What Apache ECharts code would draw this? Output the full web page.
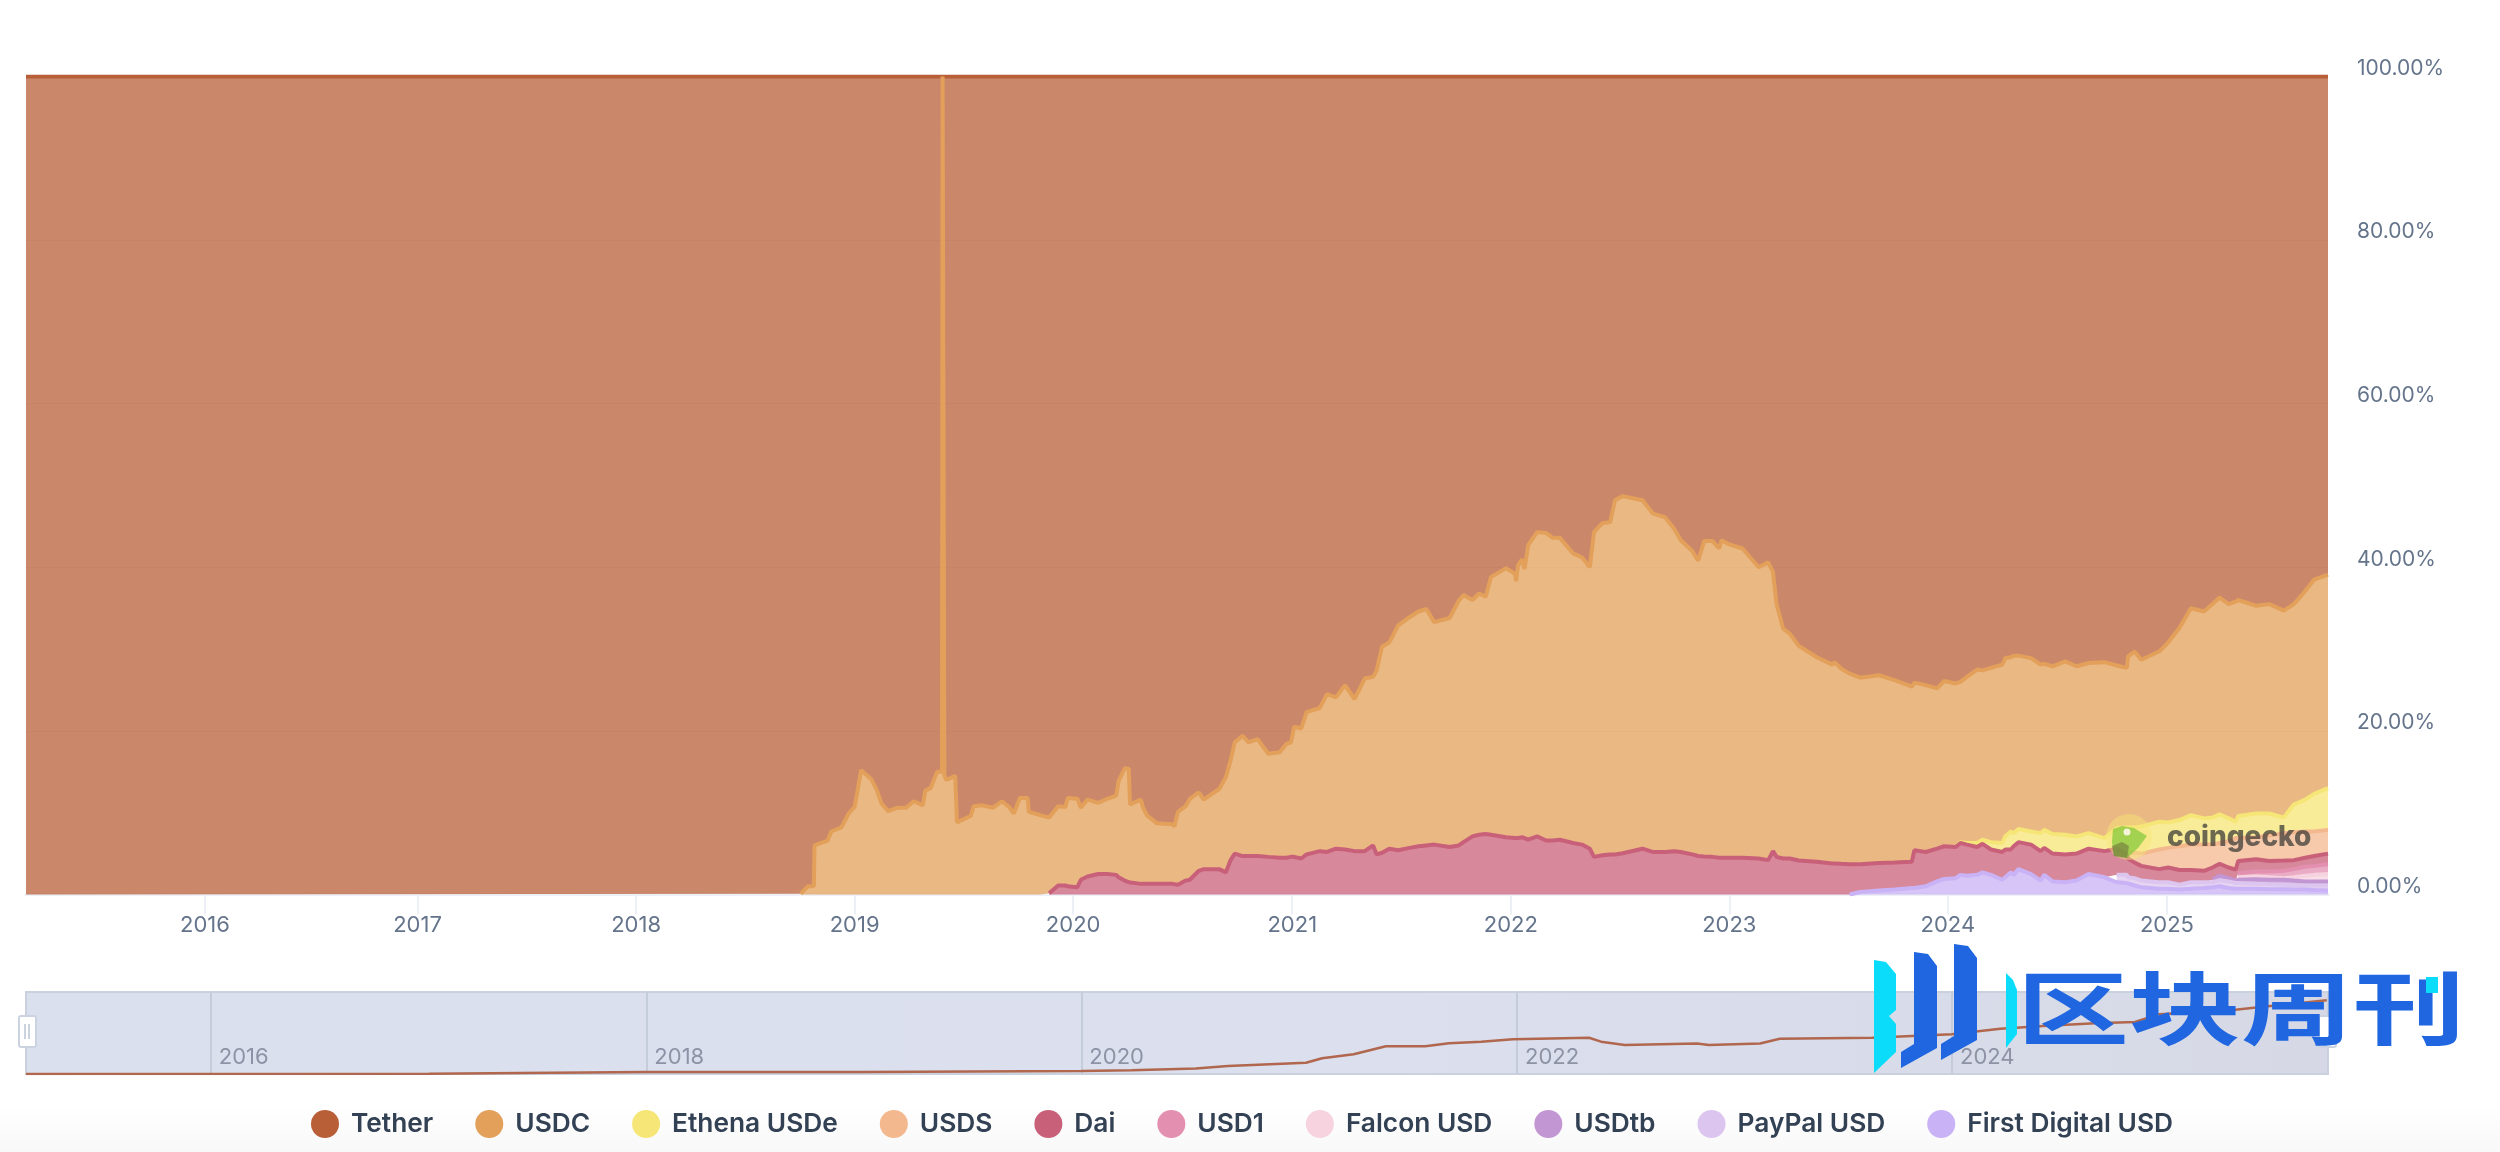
<!DOCTYPE html>
<html>
<head>
<meta charset="utf-8">
<title>Stablecoin dominance</title>
<script src="https://cdn.jsdelivr.net/npm/echarts@6/dist/echarts.min.js"></script>
<style>
html, body { margin: 0; padding: 0; background: linear-gradient(to bottom, #fff 96%, #f8f8f8 100%); }
#chart { width: 2500px; height: 1152px; }
</style>
</head>
<body>
<div id="chart"></div>
<script>
// shared dates of the stacked area
var dates = [
    '2015-03-19', '2018-10-02',
    '2018-10-03', '2018-10-15', '2018-10-25', '2018-10-26', '2018-11-17', '2018-11-23', '2018-12-10', '2018-12-22', '2019-01-01', '2019-01-05',
    '2019-01-12', '2019-01-18', '2019-01-29', '2019-02-07', '2019-02-15', '2019-02-26', '2019-03-13', '2019-03-28', '2019-04-10', '2019-04-25',
    '2019-04-29', '2019-05-08', '2019-05-15', '2019-05-19', '2019-05-27', '2019-05-28', '2019-05-30', '2019-05-31', '2019-06-03', '2019-06-18',
    '2019-06-21', '2019-06-29', '2019-07-14', '2019-07-19', '2019-08-02', '2019-08-20', '2019-09-04', '2019-09-16', '2019-09-24', '2019-10-04',
    '2019-10-17', '2019-10-19', '2019-11-07',
    '2019-11-22', '2019-12-07', '2019-12-19', '2019-12-23', '2020-01-08', '2020-01-14', '2020-01-25', '2020-02-12', '2020-02-27', '2020-03-13',
    '2020-03-17', '2020-03-27', '2020-04-03', '2020-04-05', '2020-04-23', '2020-04-27', '2020-05-03', '2020-05-20', '2020-06-15', '2020-06-18',
    '2020-06-24', '2020-07-07', '2020-07-14', '2020-07-29', '2020-08-06', '2020-09-01', '2020-09-12', '2020-09-20', '2020-09-27', '2020-10-10',
    '2020-10-20', '2020-11-04', '2020-11-22', '2020-12-11', '2020-12-22', '2020-12-30', '2021-01-04', '2021-01-16', '2021-01-25', '2021-02-16',
    '2021-02-28', '2021-03-15', '2021-03-30', '2021-04-15', '2021-05-02', '2021-05-16', '2021-05-22', '2021-05-31', '2021-06-12', '2021-06-27',
    '2021-07-16', '2021-07-31', '2021-08-13', '2021-08-26', '2021-09-21', '2021-10-06', '2021-10-14', '2021-10-29', '2021-11-09', '2021-11-20',
    '2021-11-29', '2021-12-24', '2022-01-08', '2022-01-10', '2022-01-13', '2022-01-20', '2022-01-24', '2022-01-30', '2022-02-14', '2022-03-01',
    '2022-03-12', '2022-03-24', '2022-04-15', '2022-04-30', '2022-05-13', '2022-05-20', '2022-06-03', '2022-06-16', '2022-06-24', '2022-07-07',
    '2022-08-09', '2022-08-26', '2022-09-16', '2022-10-01', '2022-10-12', '2022-10-31', '2022-11-10', '2022-11-20', '2022-12-04', '2022-12-15',
    '2022-12-19', '2023-01-01', '2023-01-23', '2023-02-19', '2023-03-07', '2023-03-15', '2023-03-21', '2023-04-01', '2023-04-12', '2023-04-27',
    '2023-05-27', '2023-06-22', '2023-06-26', '2023-07-07',
    '2023-07-21', '2023-08-08', '2023-09-08', '2023-10-04', '2023-11-02', '2023-11-06', '2023-11-25', '2023-12-14', '2023-12-26', '2024-01-14',
    '2024-01-22', '2024-02-02', '2024-02-19', '2024-02-28', '2024-03-13', '2024-04-01', '2024-04-06', '2024-04-15', '2024-04-20', '2024-04-28',
    '2024-05-19', '2024-06-04', '2024-06-10', '2024-06-24', '2024-07-15', '2024-08-03', '2024-08-23', '2024-09-19', '2024-10-09', '2024-10-26',
    '2024-10-28', '2024-11-08', '2024-11-19', '2024-12-19', '2025-01-03', '2025-01-22', '2025-02-10', '2025-03-04', '2025-03-18', '2025-03-30',
    '2025-04-14', '2025-04-26', '2025-04-30', '2025-05-30', '2025-06-21', '2025-07-15', '2025-08-01', '2025-08-20', '2025-09-04', '2025-09-27'
];

// top edge of each band in percent.
// each list ends on the last date, the ones that start later are just shorter
var usdcTop = [
    0.1, 1, 1, 6, 6.6, 7.7, 8.2, 9.9, 10.7, 12.3,
    15.2, 14.8, 14.1, 12.8, 11.1, 10.2, 10.6, 10.6, 11.4, 10.9,
    12.7, 13, 14.3, 15, 15, 100, 100, 14.6, 14, 14.5,
    8.8, 9.1, 9.6, 10.8, 10.9, 10.6, 11.4, 10.7, 9.9, 11.8,
    11.8, 10.1, 9.7,
    9.4, 10.8, 10.7, 11.8, 11.7, 10.6, 11.6, 11.2, 11.7, 12.1,
    13.9, 15.4, 15.4, 11, 11.6, 10.6, 9.7, 8.7, 8.6, 8.3,
    10.1, 10.8, 11.7, 12.5, 11.6, 12.9, 14.3, 16.4, 18.6, 19.4,
    18.6, 19, 17.2, 17.4, 18.4, 18.6, 20.5, 20.3, 22.3, 22.8,
    24.5, 24.1, 25.6, 23.9, 26.4, 26.6, 27.4, 30.3, 30.8, 32.9,
    33.9, 34.6, 34.9, 33.3, 33.8, 35.9, 36.6, 36, 36.8, 36.4,
    38.8, 39.9, 39.2, 38.3, 40.2, 41, 39.8, 42.7, 44.3, 44.2,
    43.6, 43.6, 41.7, 41.2, 40, 44.3, 45.4, 45.5, 48.2, 48.7,
    48.2, 46.6, 46.1, 44.7, 43.3, 42, 40.8, 43.2, 43.2, 42.3,
    43.3, 42.8, 42.3, 40, 40.6, 39.4, 35.5, 32.5, 31.9, 30.4,
    29, 28.1, 28.4, 27.6,
    27, 26.5, 26.8, 26.2, 25.4, 25.9, 25.6, 25.2, 26.1, 25.8,
    26, 26.6, 27.5, 27.4, 27.7, 28.1, 28.9, 29, 29.2, 29.2,
    28.9, 28.1, 28.2, 27.9, 28.5, 27.9, 28.3, 28.4, 28, 27.7,
    29.1, 29.7, 28.7, 29.7, 30.8, 32.6, 35, 34.6, 35.5, 36.3,
    35.5, 35.8, 36, 35.3, 35.5, 34.7, 35.5, 37.1, 38.5, 39.1
];
var usdeTop = [
    5.85,
    6.4, 6.3, 6.3, 6.7, 6.4, 6.3, 7.1, 7.7, 7.5, 8,
    7.7, 7.5, 7.9, 7.4, 7.3, 7.1, 7.5, 6.9, 8.1, 8.2,
    8.2, 8.2, 8.3, 8.9, 8.8, 9.1, 9.7, 9.3, 9.4, 9.8,
    9.3, 8.9, 9.6, 9.9, 9.9, 9.4, 11, 11.6, 12.3, 13
];
var usdsTop = [
    5.1, 5.1, 5, 5.5, 5.7, 5.9, 6.1, 6.1, 6.1, 6.3,
    6.5, 6.9, 6.9, 7, 7.2, 7.5, 7.6, 7.7, 7.7, 7.9
];
var daiTop = [
    0.15, 1.1, 1.1, 1, 0.9, 1.8, 2.2, 2.5, 2.5, 2.4,
    2.1, 1.7, 1.5, 1.3, 1.3, 1.3, 1.3, 1.3, 1.3, 1.2,
    1.2, 1.7, 1.8, 2.9, 3.1, 3.1, 2.7, 4.2, 5, 4.7,
    4.7, 4.7, 4.6, 4.5, 4.5, 4.6, 4.6, 4.4, 4.9, 5.3,
    5.2, 5.6, 5.5, 5.3, 5.3, 6, 4.9, 5.1, 5.6, 5.4,
    5.7, 5.9, 6, 6.1, 5.8, 6, 6.4, 7.1, 7.3, 7.4,
    7.3, 7, 6.9, 6.9, 6.9, 7, 6.9, 6.7, 7.1, 6.6,
    6.6, 6.7, 6.3, 6.1, 5.6, 4.6, 4.8, 4.9, 4.9, 5.05,
    5.6, 5.2, 5.2, 5.3, 5.2, 4.9, 4.7, 4.65, 4.6, 4.5,
    4.5, 4.5, 4.5, 4.4, 4.2, 5.3, 4.6, 4.4, 4.4, 4.15,
    4, 3.8, 3.8, 3.75,
    3.7, 3.7, 3.85, 3.9, 4, 5.4, 5.2, 5.6, 5.9, 5.8,
    6.3, 6.1, 5.8, 6.2, 5.5, 5.2, 5.5, 5.5, 5.9, 6.4,
    6.1, 5.3, 5.7, 5, 4.9, 5, 5.6, 5.3, 5.6, 4.9,
    4.4, 3.9, 3.5, 3.1, 3.3, 3, 3, 2.9, 3.3, 3.75,
    3.3, 3.05, 4.1, 4.3, 4.1, 4.15, 4.2, 4.5, 4.7, 5
];
var usd1Top = [2.6, 2.8, 2.8, 2.9, 3.1, 3.4, 3.5, 3.7];
var falconTop = [2.1, 2.2, 2.1, 2, 2.1, 2.3, 2.4, 2.5];
var usdtbTop = [1.8, 2.3, 2, 1.7, 1.8, 1.85, 1.8, 1.8, 1.7, 1.6, 1.6, 1.6];
var pyusdTop = [
    2.4, 2.4, 2.1, 2, 1.7, 1.5, 1.5, 1.2, 1.5, 1.5, 1.5,
    1.75, 1.6, 1.4, 1.4, 1.3, 1.25, 1.2, 1.15, 1.1, 1.1, 1.1
];
var fdusdTop = [
    0, 0.3, 0.5, 0.6, 0.8, 0.8, 1, 1.6, 1.9, 2,
    2.4, 2.3, 2.4, 2.7, 2.4, 1.8, 2.1, 2.7, 2.4, 3.1,
    2.5, 1.7, 2.4, 1.6, 1.5, 1.7, 2.5, 2.1,
    1.5, 1.4, 1.2, 1.1, 0.9, 0.7, 0.7, 0.6, 0.7, 0.8, 0.9,
    1, 0.8, 0.7, 0.7, 0.7, 0.65, 0.65, 0.6, 0.6, 0.55, 0.5
];

// total market cap in the navigator, billions
var capDates = [
    '2015-02-25', '2017-01-01', '2018-01-01', '2019-01-01', '2020-01-01', '2020-03-25', '2020-07-11', '2020-09-03', '2021-01-12', '2021-02-08',
    '2021-04-02', '2021-05-26', '2021-07-31', '2021-09-09', '2021-11-02', '2021-12-25', '2022-05-02', '2022-05-22', '2022-07-01', '2022-10-30',
    '2022-11-19', '2023-02-13', '2023-03-18', '2023-08-20', '2024-01-01', '2024-03-22', '2024-06-09', '2024-08-28', '2024-11-03', '2024-12-14',
    '2025-04-13', '2025-06-06', '2025-09-21'
];
var capValues = [
    0.5, 1, 8, 8, 12, 15, 23, 33, 46, 65,
    81, 114, 114, 126, 133, 143, 149, 133, 119, 125,
    119, 125, 145, 149, 163, 186, 198, 209, 214, 246,
    262, 276, 303
];

var names = ['Tether', 'USDC', 'Ethena USDe', 'USDS', 'Dai', 'USD1', 'Falcon USD', 'USDtb', 'PayPal USD', 'First Digital USD'];
var colors = ['#b85f38', '#e3a05a', '#f6e677', '#f3b88e', '#c9607a', '#e38fb0', '#f6d3df', '#c295d3', '#dcc5ee', '#c9b2f5'];
// the first tick sits a little late in the original, on its first grouped point
var yearTicks = ['2016-01-12', '2017-01-01', '2018-01-01', '2019-01-01', '2020-01-01', '2021-01-01', '2022-01-01', '2023-01-01', '2024-01-01', '2025-01-01'];
var navTicks = ['2016-01-01', '2018-01-01', '2020-01-01', '2022-01-01', '2024-01-01'];

function toTime(list) {
    return list.map(function (d) { return Date.parse(d); });
}

function padFront(list) {
    var out = [];
    for (var i = 0; i < dates.length - list.length; i++) out.push(null);
    return out.concat(list);
}

// bottom of the stack first, tether just fills what is left up to 100
var tops = [fdusdTop, pyusdTop, usdtbTop, falconTop, usd1Top, daiTop, usdsTop, usdeTop, usdcTop].map(padFront);
var level = dates.map(function () { return 0; });
var shares = tops.map(function (top) {
    return top.map(function (v, i) {
        if (v === null) return null;
        var band = +(v - level[i]).toFixed(2);
        level[i] = v;
        return band;
    });
});
shares.push(level.map(function (v) { return +(100 - v).toFixed(2); }));

var times = toTime(dates);
var series = [];
shares.forEach(function (band, k) {
    var idx = names.length - 1 - k;
    series.push({
        name: names[idx],
        type: 'line',
        stack: 'share',
        xAxisIndex: 0,
        yAxisIndex: 0,
        z: 20 - k, // lower bands go on top so their edge line is not covered
        showSymbol: false,
        silent: true,
        lineStyle: {width: 4, color: colors[idx]},
        itemStyle: {color: colors[idx]},
        areaStyle: {color: colors[idx], opacity: 0.75},
        data: band.map(function (v, i) { return [times[i], v]; })
    });
});

var capTimes = toTime(capDates);
series.push({
    name: 'cap',
    type: 'line',
    xAxisIndex: 1,
    yAxisIndex: 1,
    showSymbol: false,
    silent: true,
    lineStyle: {width: 2.5, color: '#b0674e'},
    itemStyle: {color: '#b0674e'},
    data: capValues.map(function (v, i) { return [capTimes[i], v]; })
});

var option = {
    animation: false,
    useUTC: true,
    textStyle: {fontFamily: 'Inter'},
    legend: {
        left: 306,
        top: 1105,
        icon: 'circle',
        itemWidth: 28,
        itemHeight: 28,
        itemGap: 42,
        selectedMode: false,
        data: names,
        textStyle: {fontFamily: 'Inter', fontSize: 26.3, fontWeight: 600, color: '#334155', padding: [0, 0, 0, 7]}
    },
    grid: [
        {left: 26, top: 76.5, width: 2302, height: 818},
        {
            left: 26, top: 992, width: 2302, height: 82, show: true,
            borderWidth: 2, borderColor: '#c9d0de',
            backgroundColor: new echarts.graphic.LinearGradient(0, 0, 1, 0, [
                {offset: 0, color: '#dbe0ef'},
                {offset: 0.6, color: '#dbdfee'},
                {offset: 1, color: '#d6d9e5'}
            ])
        }
    ],
    xAxis: [
        {
            type: 'time',
            gridIndex: 0,
            min: Date.parse('2015-03-19'),
            max: Date.parse('2025-09-27'),
            axisLine: {lineStyle: {color: '#eef0f7', width: 3}},
            axisTick: {show: true, length: 20, lineStyle: {color: '#eef0f7', width: 2}, customValues: toTime(yearTicks)},
            splitLine: {show: false},
            axisLabel: {
                customValues: toTime(yearTicks),
                margin: 20,
                color: '#64748b',
                fontSize: 22,
                formatter: '{yyyy}'
            }
        },
        {
            type: 'time',
            gridIndex: 1,
            min: Date.parse('2015-02-25'),
            max: Date.parse('2025-09-23'),
            axisLine: {show: false},
            axisTick: {show: false, customValues: toTime(navTicks)},
            splitLine: {show: true, lineStyle: {color: '#c5ccdb', width: 2}},
            axisLabel: {
                customValues: toTime(navTicks),
                inside: true,
                margin: 6,
                align: 'left',
                padding: [0, 0, 0, 8],
                color: '#8d93a5',
                fontSize: 22,
                formatter: '{yyyy}'
            }
        }
    ],
    yAxis: [
        {
            type: 'value',
            gridIndex: 0,
            position: 'right',
            min: 0,
            max: 100,
            interval: 20,
            axisLine: {show: false},
            axisTick: {show: false},
            splitLine: {lineStyle: {color: '#eceef4', width: 1}},
            axisLabel: {
                margin: 29,
                color: '#64748b',
                fontSize: 21,
                verticalAlign: 'bottom',
                lineHeight: 16,
                formatter: function (v) { return v + '.00%'; }
            }
        },
        {
            type: 'value',
            gridIndex: 1,
            min: 0,
            max: 337,
            show: false,
            splitLine: {show: false}
        }
    ],
    series: series,
    graphic: {
        elements: [
            // coingecko mark inside the plot
            {type: 'circle', silent: true, z: 50, shape: {cx: 2129, cy: 837, r: 23}, style: {fill: 'rgba(246,230,119,0.45)'}},
            {type: 'polygon', silent: true, z: 51, shape: {points: [[2113, 829], [2122, 826], [2134, 828], [2147, 836], [2138, 848], [2127, 858], [2114, 856], [2112, 842]]}, style: {fill: 'rgba(135,200,60,0.75)'}},
            {type: 'polygon', silent: true, z: 51, shape: {points: [[2112, 846], [2122, 842], [2129, 846], [2127, 858], [2114, 856]]}, style: {fill: 'rgba(110,110,60,0.55)'}},
            {type: 'circle', silent: true, z: 52, shape: {cx: 2127, cy: 832, r: 3.5}, style: {fill: '#f5f3d8'}},
            {type: 'text', silent: true, z: 52, x: 2167, y: 838, style: {text: 'coingecko', fontFamily: 'Inter', fontWeight: 800, fontSize: 28, fill: 'rgba(70,66,60,0.78)', verticalAlign: 'middle'}},
            // navigator handles
            {type: 'rect', silent: true, z: 60, shape: {x: 19, y: 1016, width: 17, height: 31, r: 2}, style: {fill: '#fff', stroke: '#ccd3e0', lineWidth: 2}},
            {type: 'line', silent: true, z: 61, shape: {x1: 25, y1: 1024, x2: 25, y2: 1039}, style: {stroke: '#ccd3e0', lineWidth: 2}},
            {type: 'line', silent: true, z: 61, shape: {x1: 29, y1: 1024, x2: 29, y2: 1039}, style: {stroke: '#ccd3e0', lineWidth: 2}},
            {type: 'rect', silent: true, z: 60, shape: {x: 2319, y: 1016, width: 17, height: 31, r: 2}, style: {fill: '#fff', stroke: '#ccd3e0', lineWidth: 2}},
            // blue logo stamped over the bottom right
            {type: 'polygon', silent: true, z: 70, shape: {points: [[1874, 960], [1886, 962], [1896, 974], [1896, 1010], [1889, 1016], [1896, 1024], [1896, 1052], [1874, 1073]]}, style: {fill: '#0bdcfa'}},
            {type: 'polygon', silent: true, z: 70, shape: {points: [[1914, 952], [1928, 954], [1937, 966], [1937, 1048], [1901, 1068], [1901, 1052], [1914, 1044]]}, style: {fill: '#1f66e0'}},
            {type: 'polygon', silent: true, z: 70, shape: {points: [[1954, 944], [1968, 946], [1977, 958], [1977, 1040], [1941, 1060], [1941, 1044], [1954, 1036]]}, style: {fill: '#1f66e0'}},
            {type: 'polygon', silent: true, z: 70, shape: {points: [[2006, 973], [2013, 980], [2017, 990], [2017, 1034], [2006, 1048]]}, style: {fill: '#0bdcfa'}},
            {type: 'text', silent: true, z: 70, x: 2017, y: 1008, scaleX: 1.4, style: {text: '区块周刊', fontFamily: 'Noto Sans CJK SC', fontWeight: 700, fontSize: 80, fill: '#1f66e0', verticalAlign: 'middle'}},
            {type: 'rect', silent: true, z: 71, shape: {x: 2426, y: 977, width: 12, height: 16}, style: {fill: '#0bdcfa'}}
        ]
    }
};

var myChart = echarts.init(document.getElementById('chart'));
myChart.setOption(option);
</script>
</body>
</html>
